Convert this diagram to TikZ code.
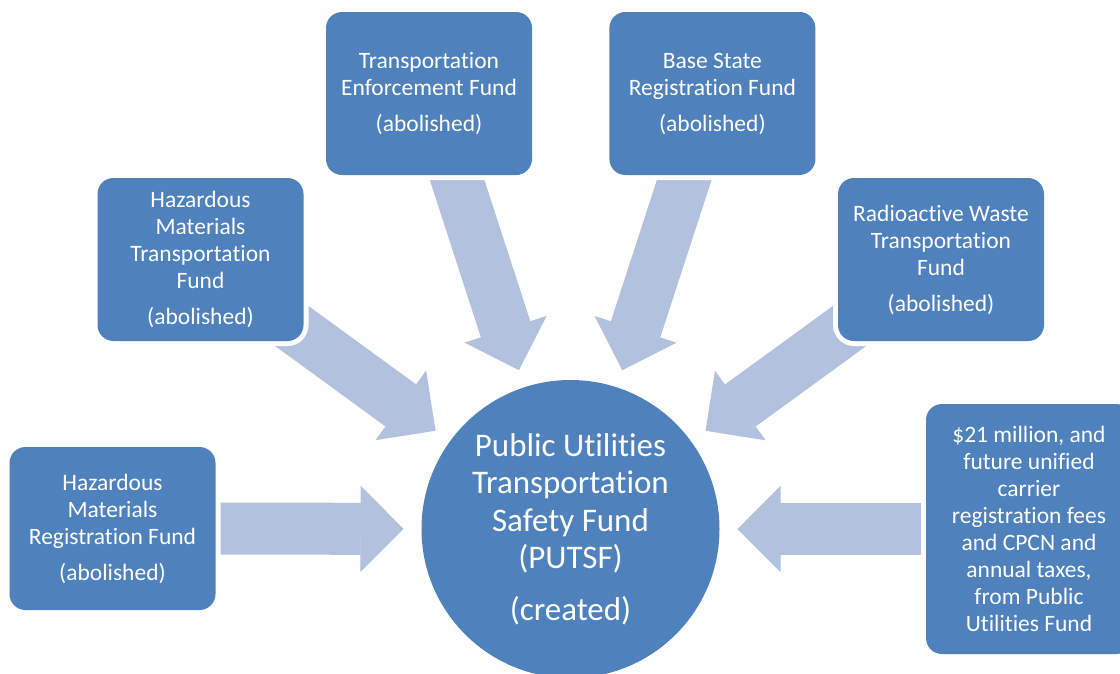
\documentclass[tikz,border=0pt]{standalone}
\usepackage{fontspec}
\setmainfont{Carlito}[Ligatures=NoCommon]
\usepackage{xcolor}
\definecolor{Office Blue}{HTML}{4F81BD}
\definecolor{Pale Blue}{HTML}{B2C1DD}
\colorlet{cBox}{Office Blue}
\colorlet{cArrow}{Pale Blue}
\usepackage{tikz}
\usetikzlibrary{calc, arrows.meta, positioning, backgrounds}
\tikzset{
	x=1pt,
	y=-1pt,
	fund/.style={
		fill=cBox,
		rounded corners=16pt,
		text=white,
		align=center,
		minimum width=206pt,
		minimum height=163pt,
		inner sep=0pt,
		font=\fontsize{23.5}{27}\selectfont,
		preaction={draw=white, line width=10pt}
	},
	hub/.style={
		circle,
		fill=cBox,
		text=white,
		align=center,
		minimum size=298pt,
		inner sep=0pt,
		font=\fontsize{33}{37.5}\selectfont
	},
	flow/.style={
		draw=cArrow,
		line width=52pt,
		-{Triangle[width=86pt, length=43pt, line width=1pt]}
	}
}

\begin{document}
\begin{tikzpicture}
\useasboundingbox (0,0) rectangle (1120,673);
% ---
% new fund in the middle
% ---
\node[hub] at (570.5,529) (putsf) {Public Utilities\\Transportation\\Safety Fund\\(PUTSF)\\[14pt](created)};

% ---
% funds around it
% ---
\node[fund] at (112.5,528.5) (hmrf) {Hazardous\\Materials\\Registration Fund\\[9pt](abolished)};
\node[fund] at (200.5,259.5) (hmtf) {Hazardous\\Materials\\Transportation\\Fund\\[9pt](abolished)};
\node[fund] at (429,93.5) (tef) {Transportation\\Enforcement Fund\\[9pt](abolished)};
\node[fund, right=77pt of tef] (bsrf) {Base State\\Registration Fund\\[9pt](abolished)};
\node[fund] at (941,259.5) (rwtf) {Radioactive Waste\\Transportation\\Fund\\[9pt](abolished)};
\node[fund, minimum height=250pt] at (1029,529) (fees) {\$21 million, and\\future unified\\carrier\\registration fees\\and CPCN and\\annual taxes,\\from Public\\Utilities Fund};

% ---
% block arrows, behind the boxes
% ---
\coordinate (hmrf-in) at ($(putsf)!167pt!(hmrf)$);
\coordinate (hmtf-in) at ($(putsf)!167pt!(hmtf)$);
\coordinate (tef-in) at ($(putsf)!167pt!(tef)$);
\coordinate (bsrf-in) at ($(putsf)!167pt!(bsrf)$);
\coordinate (rwtf-in) at ($(putsf)!167pt!(rwtf)$);
\coordinate (fees-in) at ($(putsf)!167pt!(fees)$);

\begin{pgfonlayer}{background}
\draw[flow] (hmrf.center) -- (hmrf-in);
\draw[flow] (hmtf.center) -- (hmtf-in);
\draw[flow] (tef.center) -- (tef-in);
\draw[flow] (bsrf.center) -- (bsrf-in);
\draw[flow] (rwtf.center) -- (rwtf-in);
\draw[flow] (fees.center) -- (fees-in);
\end{pgfonlayer}
\end{tikzpicture}
\end{document}
